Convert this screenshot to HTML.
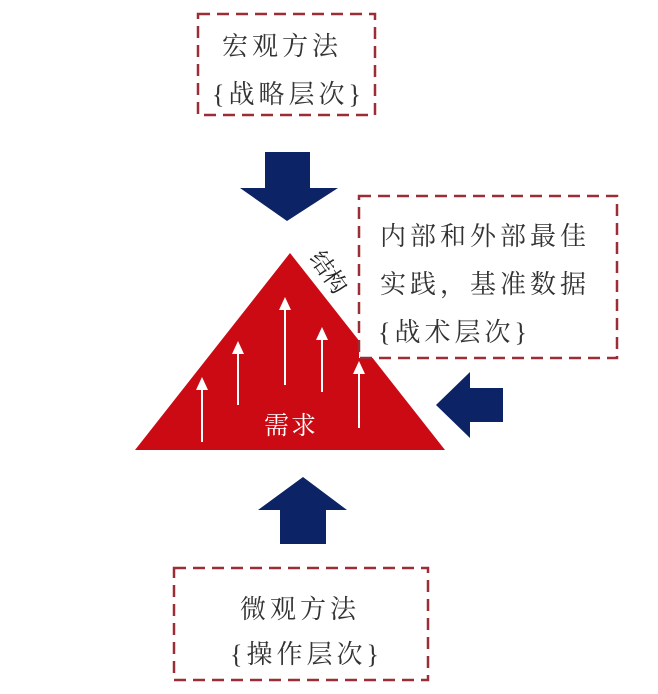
<!DOCTYPE html>
<html><head><meta charset="utf-8"><style>
html,body{margin:0;padding:0;background:#fff;}
body{width:658px;height:694px;overflow:hidden;position:relative;}
svg{position:absolute;left:0;top:0;}
text{font-family:"Liberation Serif","Noto Serif CJK SC",serif;}
</style></head><body>
<svg width="658" height="694" viewBox="0 0 658 694">
<polygon points="290,253 135,450 445,450" fill="#cc0a14"/>
<g stroke="#fff" stroke-width="2" fill="#fff">
<line x1="202" y1="442" x2="202" y2="388"/><polygon points="196,390 208,390 202,377" stroke="none"/>
<line x1="238" y1="405" x2="238" y2="352"/><polygon points="232,354 244,354 238,341" stroke="none"/>
<line x1="285" y1="385" x2="285" y2="308"/><polygon points="279,310 291,310 285,297" stroke="none"/>
<line x1="322" y1="392" x2="322" y2="338"/><polygon points="316,340 328,340 322,327" stroke="none"/>
<line x1="359" y1="428" x2="359" y2="372"/><polygon points="353,374 365,374 359,361" stroke="none"/>
</g>
<text x="291" y="434" font-size="25" fill="#fff" text-anchor="middle" letter-spacing="2">需求</text>
<text x="0" y="0" font-size="23" fill="#222" transform="translate(309,258) rotate(55)">结构</text>
<g fill="#fff" stroke="#9b2d37" stroke-width="2.5" stroke-dasharray="12,7">
<rect x="198" y="14" width="177" height="101"/>
<rect x="359" y="196" width="258" height="162"/>
<rect x="174" y="568" width="254" height="112"/>
</g>
<g font-size="26" fill="#333" letter-spacing="4">
<text x="222" y="55">宏观方法</text>
<text x="212" y="103">{战略层次}</text>
<text x="380" y="245">内部和外部最佳</text>
<text x="380" y="293">实践，基准数据</text>
<text x="378" y="341">{战术层次}</text>
<text x="240" y="618">微观方法</text>
<text x="230" y="663">{操作层次}</text>
</g>
<g fill="#0c2466">
<polygon points="265,152 310,152 310,188 338,188 287,221 240,188 265,188"/>
<polygon points="280,544 326,544 326,510 347,510 303,477 258,510 280,510"/>
<polygon points="503,388 503,422 470,422 470,438 436,405 470,372 470,388"/>
</g>
</svg>
</body></html>
